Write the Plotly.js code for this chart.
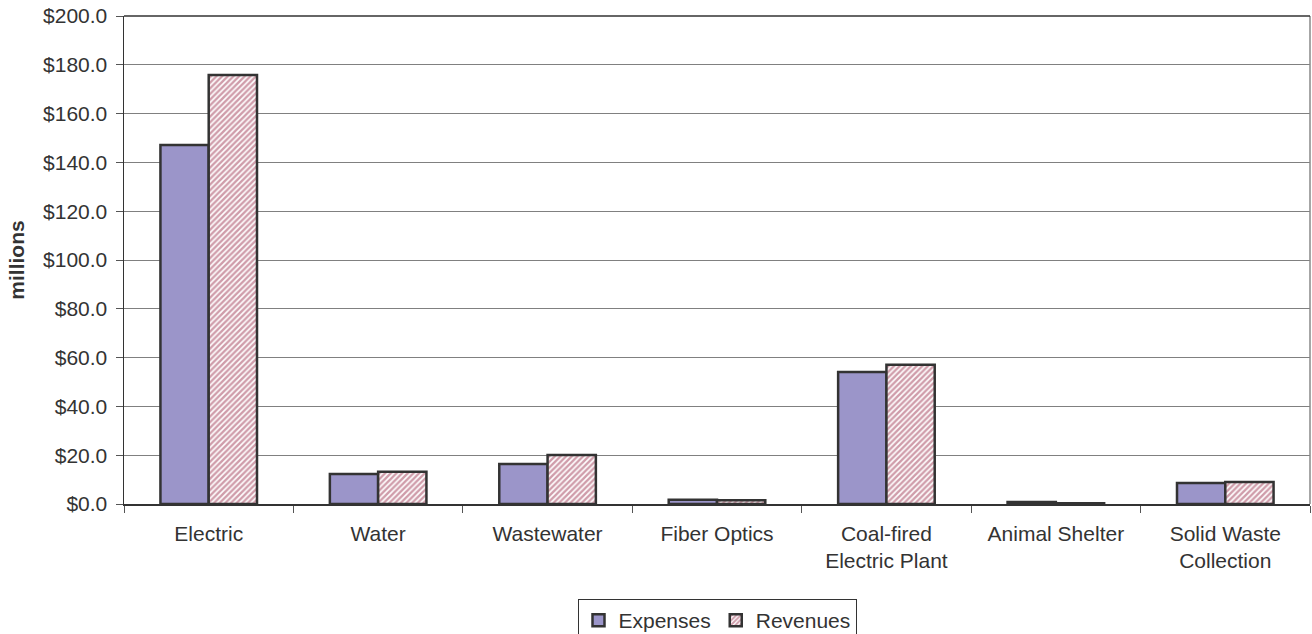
<!DOCTYPE html>
<html>
<head>
<meta charset="utf-8">
<script src="https://cdn.plot.ly/plotly-3.0.1.min.js"></script>
<style>html,body{margin:0;padding:0;background:#fff;}#chart{width:1312px;height:634px;}</style>
</head>
<body>
<div id="chart"></div>
<script>
var categories = ["Electric", "Water", "Wastewater", "Fiber Optics", "Coal-fired<br>Electric Plant", "Animal Shelter", "Solid Waste<br>Collection"];
var expenses = [147.1, 12.3, 16.4, 1.7, 54.1, 0.8, 8.6];
var revenues = [175.8, 13.2, 20.1, 1.5, 57.1, 0.3, 9.0];
var yTickVals = [0, 20, 40, 60, 80, 100, 120, 140, 160, 180, 200];
var yTickText = ["$0.0", "$20.0", "$40.0", "$60.0", "$80.0", "$100.0", "$120.0", "$140.0", "$160.0", "$180.0", "$200.0"];

var font = "'Liberation Sans', Arial, sans-serif";
var data = [
  {type: "bar", name: "Expenses", x: categories, y: expenses,
   marker: {color: "#9b95c9", line: {color: "#333333", width: 2.5}}},
  {type: "bar", name: "Revenues", x: categories, y: revenues,
   marker: {color: "#ffffff", line: {color: "#333333", width: 2.5},
     pattern: {shape: "/", fgcolor: "#a03a55", bgcolor: "#ffffff", size: 4, solidity: 0.6, fillmode: "overlay"}}}
];
var layout = {
  width: 1312, height: 634,
  margin: {l: 124, r: 2, t: 16, b: 130},
  paper_bgcolor: "#ffffff", plot_bgcolor: "#ffffff",
  barmode: "group", bargap: 0.43, bargroupgap: 0,
  font: {family: font, size: 21, color: "#333333"},
  showlegend: true,
  legend: {orientation: "h", xref: "paper", x: 0.5, xanchor: "center",
    yref: "container", y: 0.055, yanchor: "top",
    bordercolor: "#333333", borderwidth: 1, font: {family: font, size: 21, color: "#333333"},
    itemwidth: 30, tracegroupgap: 0},
  xaxis: {type: "category", showline: true, linecolor: "#333333", linewidth: 1.5,
    ticks: "outside", tickson: "boundaries", ticklen: 7, tickcolor: "#555555", ticklabelstandoff: 10,
    showgrid: false, automargin: false, tickfont: {family: font, size: 21, color: "#333333"}},
  yaxis: {range: [0, 200], tickvals: yTickVals, ticktext: yTickText, automargin: false,
    showline: true, linecolor: "#333333", linewidth: 1.5, ticks: "outside", ticklen: 7, tickcolor: "#555555",
    ticklabelstandoff: 4,
    showgrid: true, gridcolor: "#808080", gridwidth: 1, zeroline: false,
    tickfont: {family: font, size: 21, color: "#333333"},
    title: {text: "<b>millions</b>", font: {family: font, size: 21, color: "#333333"}, standoff: 12}},
  shapes: [
    {type: "line", xref: "paper", yref: "paper", x0: 1, x1: 1, y0: 0, y1: 1, line: {color: "#888888", width: 1.5}},
    {type: "line", xref: "paper", yref: "paper", x0: 0, x1: 1, y0: 1, y1: 1, line: {color: "#333333", width: 1.5}}
  ]
};
Plotly.newPlot("chart", data, layout, {displayModeBar: false, staticPlot: true});
</script>
</body>
</html>
